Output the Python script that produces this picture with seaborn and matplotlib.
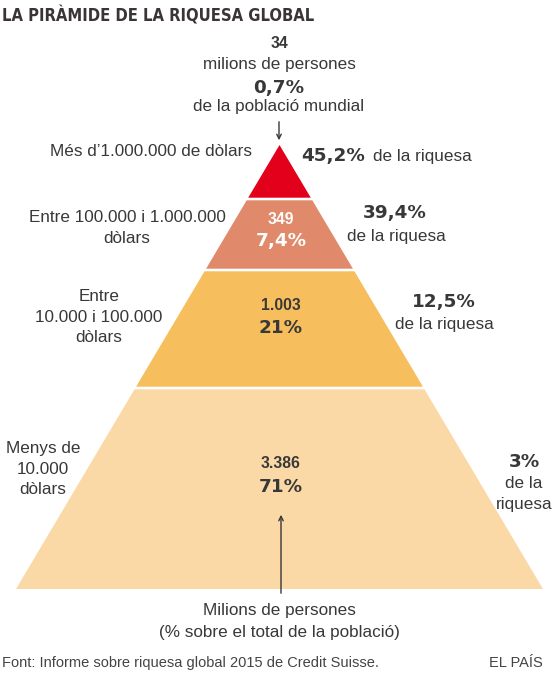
import matplotlib
matplotlib.use("Agg")
import matplotlib.pyplot as plt
import seaborn as sns

# data
tiers = ["Més d’1.000.000 de dòlars", "Entre 100.000 i 1.000.000\ndòlars",
         "Entre\n10.000 i 100.000\ndòlars", "Menys de\n10.000\ndòlars"]
people = ["34", "349", "1.003", "3.386"]
people_pct = ["0,7%", "7,4%", "21%", "71%"]
wealth_pct = ["45,2%", "39,4%", "12,5%", "3%"]

colors = ["#e2001a", "#e0896b", "#f6be5c", "#fad9a7"]
dark = "#383838"

sns.set_style("white")
plt.rcParams["font.family"] = ["Liberation Sans", "DejaVu Sans"]
bold = "DejaVu Sans"
fs = 12.3     # regular text
fb = 13.2     # big bold numbers
fn = 11.3     # small bold numbers
ls = 1.47

fig = plt.figure(figsize=(5.6, 6.73), dpi=100)
ax = fig.add_axes([0, 0, 1, 1])
ax.set_xlim(0, 560)
ax.set_ylim(673, 0)
ax.axis("off")

# pyramid geometry (pixel layout)
apex_x, apex_y = 279.5, 145
base_y, base_half = 589, 263.5
cuts = [145, 199, 270, 388, 589]
gap = 1.3


def half(y):
    return base_half * (y - apex_y) / (base_y - apex_y)


for i, c in enumerate(colors):
    t = cuts[i] + (gap if i > 0 else 0)
    b = cuts[i + 1] - (gap if i < 3 else 0)
    xs = [apex_x - half(t), apex_x + half(t), apex_x + half(b), apex_x - half(b)]
    ys = [t, t, b, b]
    ax.fill(xs, ys, color=c, lw=0)

# title
ax.text(2, 16, "LA PIRÀMIDE DE LA RIQUESA GLOBAL", family=bold, weight="bold",
        fontsize=11.9, stretch="condensed", color="#3a3338", va="center", ha="left")

# top annotation
ax.text(279, 43, people[0], weight="bold", fontsize=fn, color=dark, ha="center", va="center")
ax.text(279, 65, "milions de persones", fontsize=fs, color=dark, ha="center", va="center")
ax.text(279, 88, people_pct[0], family=bold, weight="bold", fontsize=fb, color=dark, ha="center", va="center")
ax.text(279, 107, "de la població mundial", fontsize=fs, color=dark, ha="center", va="center")
ax.annotate("", xy=(279, 143), xytext=(279, 119),
            arrowprops=dict(arrowstyle="->", color=dark, lw=1, mutation_scale=8))

# tier labels (left)
ax.text(252, 152, tiers[0], fontsize=fs, color=dark, ha="right", va="center")
ax.text(127, 228, tiers[1], fontsize=fs, color=dark, ha="center", va="center", linespacing=ls)
ax.text(99, 317, tiers[2], fontsize=fs, color=dark, ha="center", va="center", linespacing=ls)
ax.text(43, 469, tiers[3], fontsize=fs, color=dark, ha="center", va="center", linespacing=ls)

# wealth labels (right)
ax.text(301, 156, wealth_pct[0], family=bold, weight="bold", fontsize=fb, color=dark, ha="left", va="center")
ax.text(373, 156, "de la riquesa", fontsize=fs, color=dark, ha="left", va="center")
ax.text(395, 213, wealth_pct[1], family=bold, weight="bold", fontsize=fb, color=dark, ha="center", va="center")
ax.text(396, 236, "de la riquesa", fontsize=fs, color=dark, ha="center", va="center")
ax.text(444, 302, wealth_pct[2], family=bold, weight="bold", fontsize=fb, color=dark, ha="center", va="center")
ax.text(444, 325, "de la riquesa", fontsize=fs, color=dark, ha="center", va="center")
ax.text(524, 462, wealth_pct[3], family=bold, weight="bold", fontsize=fb, color=dark, ha="center", va="center")
ax.text(524, 483, "de la", fontsize=fs, color=dark, ha="center", va="center")
ax.text(524, 504, "riquesa", fontsize=fs, color=dark, ha="center", va="center")

# people inside layers
inner = [(219, 241, "white"), (305, 328, dark), (464, 487, dark)]
for i, (y1, y2, col) in enumerate(inner, start=1):
    ax.text(281, y1, people[i], weight="bold", fontsize=fn, color=col, ha="center", va="center")
    ax.text(281, y2, people_pct[i], family=bold, weight="bold", fontsize=fb, color=col, ha="center", va="center")

# bottom annotation
ax.annotate("", xy=(281, 512), xytext=(281, 596),
            arrowprops=dict(arrowstyle="->", color=dark, lw=1, mutation_scale=8))
ax.text(279, 611, "Milions de persones", fontsize=fs, color=dark, ha="center", va="center")
ax.text(279, 632, "(% sobre el total de la població)", fontsize=fs, color=dark, ha="center", va="center")

# footer
ax.text(2, 663, "Font: Informe sobre riquesa global 2015 de Credit Suisse.", fontsize=10.5,
        color="#444444", ha="left", va="center")
ax.text(543, 663, "EL PAÍS", fontsize=10.5, color="#444444", ha="right", va="center")

fig.savefig("out.png", dpi=100)
